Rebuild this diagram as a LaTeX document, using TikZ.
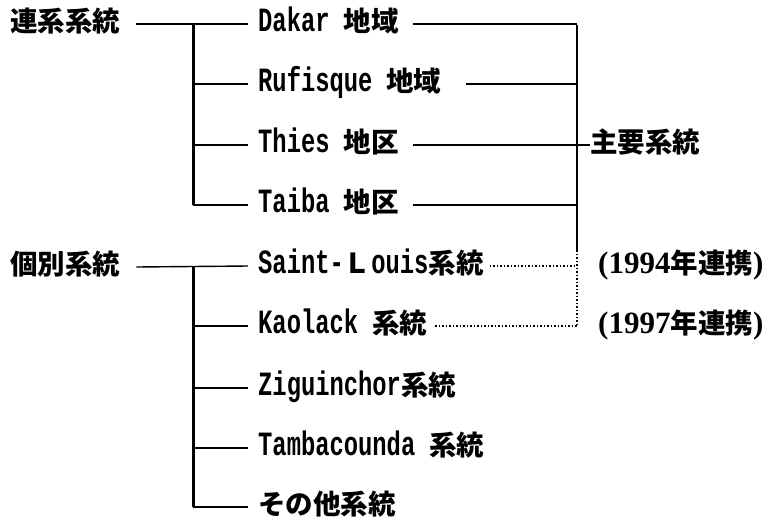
\documentclass[tikz,border=0pt]{standalone}
\usepackage{fontspec}
\newfontfamily\lat{Liberation Mono}[FakeStretch=0.7]
\newfontfamily\ser{Liberation Serif}
\newfontfamily\cjk{Noto Sans CJK JP}
\newcommand\La[1]{{\fontsize{34pt}{34pt}\lat\bfseries #1}}
\newcommand\Se[1]{{\fontsize{31pt}{31pt}\ser\bfseries #1}}
\newcommand\Jp[1]{{\fontsize{27.5pt}{30pt}\cjk\bfseries #1}}
\newcommand\Sp{\hspace{14pt}}
\begin{document}
\begin{tikzpicture}[x=1pt,y=-1pt,
  lbl/.style={anchor=west, inner sep=0pt, text height=20pt, text depth=6pt},
  trunk/.style={line width=3pt},
  br/.style={line width=1.4pt},
  dotln/.style={line width=1.5pt, dotted}]
\useasboundingbox (0,0) rectangle (769,523);
% left labels
\node[lbl] (renkei) at (10,24) {\Jp{連系系統}};
\node[lbl] (kobetsu) at (10,267) {\Jp{個別系統}};
% items
\node[lbl] (dakar) at (258,24) {\La{Dakar}\Sp\Jp{地域}};
\node[lbl] (rufisque) at (258,84) {\La{Rufisque}\Sp\Jp{地域}};
\node[lbl] (thies) at (258,145) {\La{Thies}\Sp\Jp{地区}};
\node[lbl] (taiba) at (258,205) {\La{Taiba}\Sp\Jp{地区}};
\node[lbl] (stlouis) at (258,266) {\La{Saint-}\Jp{Ｌ}\La{ouis}\Jp{系統}};
\node[lbl] (kaolack) at (258,326) {\La{Kaolack}\Sp\Jp{系統}};
\node[lbl] (zig) at (258,388) {\La{Ziguinchor}\Jp{系統}};
\node[lbl] (tamba) at (258,448) {\La{Tambacounda}\Sp\Jp{系統}};
\node[lbl] (other) at (258,507) {\Jp{その他系統}};
% right labels
\node[lbl] (shuyo) at (590,145) {\Jp{主要系統}};
\node[lbl] (y1994) at (598,266) {\Se{(1994}\Jp{年連携}\Se{)}};
\node[lbl] (y1997) at (598,326) {\Se{(1997}\Jp{年連携}\Se{)}};
% junctions
\coordinate (jA) at (193,24);
\coordinate (jB) at (193,267);
\coordinate (rT) at (577,24);
\coordinate (rM) at (577,250);
% upper group
\draw[br] ([xshift=16pt]renkei.east) -- ([xshift=-10pt]dakar.west);
\draw[trunk] (jA) -- (jA |- taiba.west);
\foreach \n in {rufisque,thies,taiba}
  \draw[br] (jA |- \n.west) -- ([xshift=-10pt]\n.west);
% lower group
\draw[br] ([xshift=16pt]kobetsu.east) -- ([xshift=-10pt]stlouis.west);
\draw[trunk] (jB) -- (jB |- other.west);
\foreach \n in {kaolack,zig,tamba,other}
  \draw[br] (jB |- \n.west) -- ([xshift=-10pt]\n.west);
% right side
\draw[br] ([xshift=14pt]dakar.east) -- (dakar.east -| rT);
\draw[br] ([xshift=24pt]rufisque.east) -- (rufisque.east -| rT);
\draw[br] ([xshift=14pt]thies.east) -- (shuyo.west);
\draw[br] ([xshift=14pt]taiba.east) -- (taiba.east -| rT);
\draw[line width=2.6pt] ([yshift=-1pt]rT) -- (rM);
\draw[dotln] (rM) -- (rM |- kaolack.east);
\draw[dotln] ([xshift=6pt]stlouis.east) -- (stlouis.east -| rT);
\draw[dotln] ([xshift=8pt]kaolack.east) -- (kaolack.east -| rT);
\end{tikzpicture}
\end{document}
